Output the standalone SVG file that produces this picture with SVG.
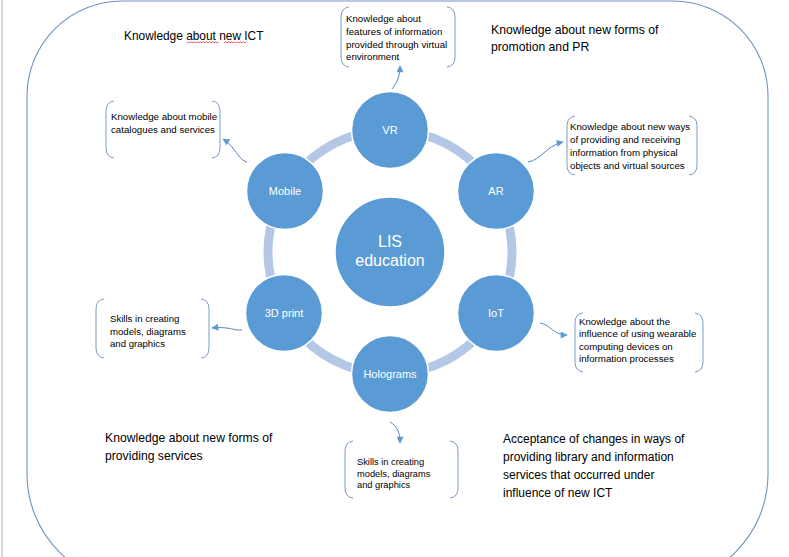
<svg xmlns="http://www.w3.org/2000/svg" width="789" height="557" viewBox="0 0 789 557">
<style>
.bg{fill:#ffffff}
.frame{fill:none;stroke:#7094bd;stroke-width:1.1}
.ring{fill:none;stroke:#b4c7e7;stroke-width:9}
.node{fill:#5b9bd5;stroke:#ffffff;stroke-width:1.5}
.nl{font-family:"Liberation Sans",Arial,sans-serif;font-size:11px;fill:#ffffff;text-anchor:middle}
.big{font-size:16px}
.br{fill:none;stroke:#7c9cc2;stroke-width:1}
.bt{font-family:"Liberation Sans",Arial,sans-serif;font-size:9.7px;fill:#000000}
.sm{font-size:9.6px}
.ft{font-family:"Liberation Sans",Arial,sans-serif;font-size:12.2px;fill:#000000}
.conn{fill:none;stroke:#5a86b8;stroke-width:1;marker-end:url(#ah)}
.sq{fill:none;stroke:#e03030;stroke-width:0.8}
</style>
<defs>
<marker id="ah" viewBox="0 0 10 10" refX="9" refY="5" markerWidth="8" markerHeight="7" markerUnits="userSpaceOnUse" orient="auto">
<path d="M0,0 L10,5 L0,10 z" fill="#5b9bd5"/>
</marker>
</defs>
<rect class="bg" x="0" y="0" width="789" height="557"/>
<line x1="2" y1="0" x2="2" y2="557" stroke="#c8c8c8" stroke-width="1.5"/>
<path class="frame" d="M122,1 L673,1 A95,95 0 0 1 768,96 L768,474 A110,110 0 0 1 658,584 L137,584 A110,110 0 0 1 27,474 L27,96 A95,95 0 0 1 122,1 Z"/>

<g id="free-texts">
<text class="ft" x="124" y="40" style="font-size:11.9px">Knowledge about new ICT</text>
<polyline class="sq" points="187,43 188.5,41.8 190,43 191.5,41.8 193,43 194.5,41.8 196,43 197.5,41.8 199,43 200.5,41.8 202,43 203.5,41.8 205,43 206.5,41.8 208,43 209.5,41.8 211,43 212.5,41.8 214,43 215.5,41.8 217,43 218.5,41.8"/>
<polyline class="sq" points="224,43 225.5,41.8 227,43 228.5,41.8 230,43 231.5,41.8 233,43 234.5,41.8 236,43 237.5,41.8 239,43 240.5,41.8 242,43 243.5,41.8 245,43 246.5,41.8"/>
<text class="ft" x="491" y="33.5">Knowledge about new forms of</text>
<text class="ft" x="491" y="51">promotion and PR</text>
<text class="ft" x="105" y="441.5">Knowledge about new forms of</text>
<text class="ft" x="105" y="459.5">providing services</text>
<text class="ft" x="503" y="442.5" style="font-size:12px">Acceptance of changes in ways of</text>
<text class="ft" x="503" y="460.5" style="font-size:12px">providing library and information</text>
<text class="ft" x="503" y="478.5" style="font-size:12px">services that occurred under</text>
<text class="ft" x="503" y="496.5" style="font-size:12px">influence of new ICT</text>
</g>

<circle class="ring" cx="390" cy="252" r="122"/>

<g id="connectors">
<path class="conn" d="M392,89 C397,83 400,76 400,66"/>
<path class="conn" d="M247,162 C238,160 236,147 223,139"/>
<path class="conn" d="M528,162 C541,160 546,146 563,142"/>
<path class="conn" d="M540,323 C551,325 553,335 567,335"/>
<path class="conn" d="M242,330 C234,331 229,326 212,328"/>
<path class="conn" d="M390,422 C397,426 400,432 400,443"/>
</g>

<g id="lis-education">
<circle class="node" cx="390" cy="252" r="55"/>
<text class="nl big" x="390" y="247">LIS</text>
<text class="nl big" x="390" y="266">education</text>
</g>
<g id="vr">
<circle class="node" cx="390" cy="130" r="38.5"/>
<text class="nl" x="390" y="134">VR</text>
</g>
<g id="mobile">
<circle class="node" cx="285" cy="191" r="38.5"/>
<text class="nl" x="285" y="195">Mobile</text>
</g>
<g id="ar">
<circle class="node" cx="496" cy="191" r="38.5"/>
<text class="nl" x="496" y="195">AR</text>
</g>
<g id="print3d">
<circle class="node" cx="284" cy="313" r="38.5"/>
<text class="nl" x="284" y="317">3D print</text>
</g>
<g id="iot">
<circle class="node" cx="496" cy="313" r="38.5"/>
<text class="nl" x="496" y="317">IoT</text>
</g>
<g id="holograms">
<circle class="node" cx="390" cy="374" r="38.5"/>
<text class="nl" x="390" y="378">Holograms</text>
</g>

<g id="box-vr">
<path class="br" d="M349,7 Q341,8 341,17 L341,57 Q341,66 349,67"/>
<path class="br" d="M447,7 Q455,8 455,17 L455,57 Q455,66 447,67"/>
<text class="bt" x="346" y="22">Knowledge about</text>
<text class="bt" x="346" y="34.8">features of information</text>
<text class="bt" x="346" y="47.6">provided through virtual</text>
<text class="bt" x="346" y="60.4">environment</text>
</g>
<g id="box-mobile">
<path class="br" d="M114,101 Q106,102 106,111 L106,148 Q106,157 114,158"/>
<path class="br" d="M212,101 Q220,102 220,111 L220,148 Q220,157 212,158"/>
<text class="bt" x="111" y="119.5">Knowledge about mobile</text>
<text class="bt" x="111" y="133">catalogues and services</text>
</g>
<g id="box-ar">
<path class="br" d="M575,116 Q567,117 567,126 L567,165 Q567,174 575,175"/>
<path class="br" d="M689,116 Q697,117 697,126 L697,165 Q697,174 689,175"/>
<text class="bt" x="570" y="129.5">Knowledge about new ways</text>
<text class="bt" x="570" y="142.8">of providing and receiving</text>
<text class="bt" x="570" y="156.1">information from physical</text>
<text class="bt" x="570" y="169.4">objects  and virtual sources</text>
</g>
<g id="box-iot">
<path class="br" d="M583,313 Q575,314 575,323 L575,362 Q575,371 583,372"/>
<path class="br" d="M695,313 Q703,314 703,323 L703,362 Q703,371 695,372"/>
<text class="bt" x="579" y="325">Knowledge about the</text>
<text class="bt" x="579" y="337.3">influence of using wearable</text>
<text class="bt" x="579" y="349.6">computing devices on</text>
<text class="bt" x="579" y="361.9">information processes</text>
</g>
<g id="box-3d">
<path class="br" d="M104,299 Q96,300 96,309 L96,348 Q96,357 104,358"/>
<path class="br" d="M201,299 Q209,300 209,309 L209,348 Q209,357 201,358"/>
<text class="bt sm" x="110" y="321.5">Skills in creating</text>
<text class="bt sm" x="110" y="334.5">models, diagrams</text>
<text class="bt sm" x="110" y="346.5">and graphics</text>
</g>
<g id="box-holograms">
<path class="br" d="M353,441 Q345,442 345,451 L345,488 Q345,497 353,498"/>
<path class="br" d="M450,441 Q458,442 458,451 L458,488 Q458,497 450,498"/>
<text class="bt" x="357" y="465" style="font-size:9.3px">Skills in creating</text>
<text class="bt" x="357" y="476.5" style="font-size:9.3px">models, diagrams</text>
<text class="bt" x="357" y="488" style="font-size:9.3px">and graphics</text>
</g>
</svg>
